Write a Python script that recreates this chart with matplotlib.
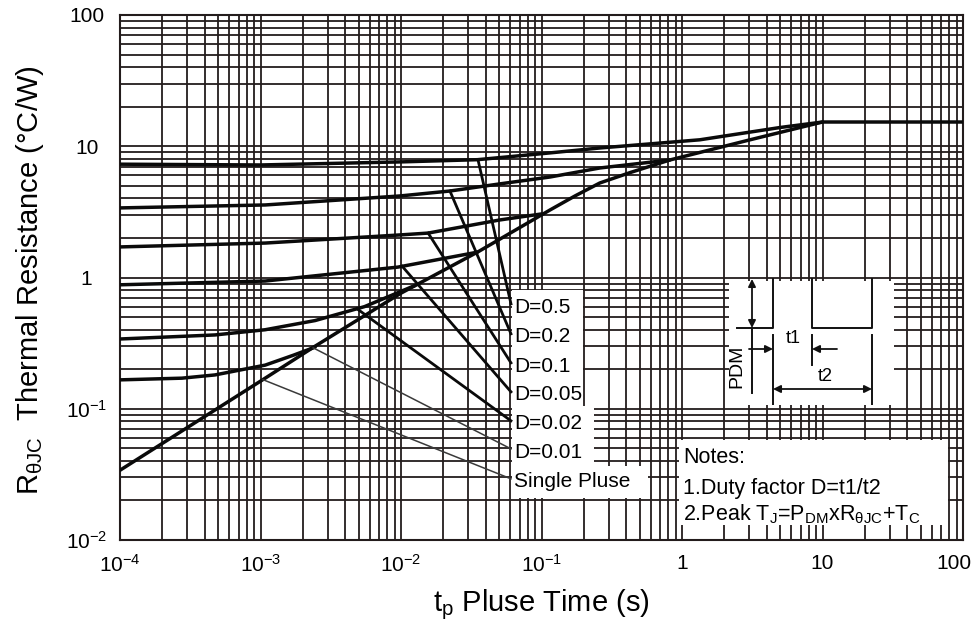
import numpy as np
import matplotlib.pyplot as plt
import matplotlib.transforms as mtransforms
from matplotlib.ticker import LogLocator, FixedLocator, FixedFormatter, NullFormatter
from matplotlib.patches import Rectangle

plt.rcParams['font.family'] = ['Liberation Sans', 'DejaVu Sans']
plt.rcParams['mathtext.fontset'] = 'custom'
plt.rcParams['mathtext.rm'] = 'Liberation Sans'
plt.rcParams['mathtext.it'] = 'Liberation Sans:italic'
plt.rcParams['mathtext.bf'] = 'Liberation Sans:bold'

# ---- data ----
x_ticks = [1e-4, 1e-3, 1e-2, 1e-1, 1, 10, 100]
x_ticklabels = ['$10^{-4}$', '$10^{-3}$', '$10^{-2}$', '$10^{-1}$', '1', '10', '100']
y_ticks = [1e-2, 1e-1, 1, 10, 100]
y_ticklabels = ['$10^{-2}$', '$10^{-1}$', '1', '10', '100']

single_t = [1e-4, 1.08e-3, 2.45e-3, 1e-2, 3.5e-2, 0.115, 0.173, 0.26, 0.427, 0.82, 3.05, 10, 100]
single_r = [0.034, 0.171, 0.30, 0.76, 1.56, 3.27, 4.18, 5.25, 6.3, 7.86, 11.2, 15.3, 15.3]

d05_t = [1e-4, 1e-3, 1e-2, 3.5e-2, 0.115, 0.26, 1.34, 5.0, 10]
d05_r = [7.3, 7.2, 7.6, 7.9, 8.9, 9.7, 11.2, 13.9, 15.3]

d02_t = [1e-4, 1.08e-3, 9.8e-3, 0.0223, 0.05, 0.115, 0.26, 0.82]
d02_r = [3.39, 3.57, 4.18, 4.56, 5.16, 5.83, 6.83, 7.86]

d01_t = [1e-4, 1.08e-3, 9.8e-3, 0.0156, 0.05, 0.1]
d01_r = [1.71, 1.83, 2.11, 2.18, 2.74, 3.05]

d005_t = [1e-4, 1.08e-3, 9.5e-3, 0.0126, 0.035]
d005_r = [0.88, 0.94, 1.2, 1.27, 1.56]

d002_t = [1e-4, 4.74e-4, 1.08e-3, 2.45e-3, 5.5e-3, 1.26e-2]
d002_r = [0.34, 0.365, 0.40, 0.47, 0.60, 0.87]

d001_t = [1e-4, 2.76e-4, 4.74e-4, 1.08e-3, 1.7e-3, 2.45e-3]
d001_r = [0.166, 0.171, 0.181, 0.215, 0.255, 0.295]

labels = ['D=0.5', 'D=0.2', 'D=0.1', 'D=0.05', 'D=0.02', 'D=0.01', 'Single Pluse']
leader_t = [0.0353, 0.0223, 0.0156, 0.0102, 4.86e-3, 2.37e-3, 1.04e-3]

notes = ['Notes:', '1.Duty factor D=t1/t2',
         r'2.Peak T$_\mathrm{J}$=P$_\mathrm{DM}$xR$_{\mathrm{\theta JC}}$+T$_\mathrm{C}$']

# ---- figure ----
GRID = '#231c1c'
fig = plt.figure(figsize=(9.74, 6.36), dpi=100)
ax = fig.add_axes([120/974, 96/636, 843/974, 525/636])
ax.set_xscale('log')
ax.set_yscale('log')
ax.set_xlim(1e-4, 100)
ax.set_ylim(1e-2, 100)

for axis in (ax.xaxis, ax.yaxis):
    axis.set_minor_locator(LogLocator(base=10, subs=np.arange(2, 10), numticks=100))
    axis.set_minor_formatter(NullFormatter())
ax.xaxis.set_major_locator(FixedLocator(x_ticks))
ax.xaxis.set_major_formatter(FixedFormatter(x_ticklabels))
ax.yaxis.set_major_locator(FixedLocator(y_ticks))
ax.yaxis.set_major_formatter(FixedFormatter(y_ticklabels))
ax.tick_params(which='both', length=0, labelsize=15)
ax.tick_params(axis='x', pad=10)
ax.tick_params(axis='y', pad=24)
for lab in ax.get_yticklabels():
    lab.set_ha('center')
# last x label would run off the right edge
last = ax.get_xticklabels()[-1]
last.set_ha('right')
last.set_transform(last.get_transform() + mtransforms.ScaledTranslation(8/100, 0, fig.dpi_scale_trans))

ax.set_axisbelow(True)
ax.grid(True, which='both', color=GRID, lw=1.3)
for sp in ax.spines.values():
    sp.set_color(GRID)
    sp.set_linewidth(1.5)

# white areas behind labels, notes and pulse sketch
masks = [(0.4650, 0.2552, 0.0843, 0.2210),
         (0.4650, 0.1410, 0.0973, 0.1142),
         (0.4650, 0.0800, 0.1613, 0.0610),
         (0.6631, 0.0286, 0.3191, 0.1619),
         (0.7224, 0.2571, 0.1957, 0.2362)]
for (mx, my, mw, mh) in masks:
    ax.add_patch(Rectangle((mx, my), mw, mh, transform=ax.transAxes,
                           facecolor='white', edgecolor='none', zorder=1))

curves = [(d05_t, d05_r), (d02_t, d02_r), (d01_t, d01_r), (d005_t, d005_r),
          (d002_t, d002_r), (d001_t, d001_r), (single_t, single_r)]
for t, r in curves:
    ax.plot(t, r, color='#0a0a0a', lw=2.5, zorder=3, solid_capstyle='round',
            solid_joinstyle='round')


def frac_to_data(fx, fy):
    return 10 ** (-4 + 6 * fx), 10 ** (-2 + 4 * fy)


label_y = [0.4438, 0.3867, 0.3314, 0.2762, 0.2210, 0.1676, 0.1105]
for i, (t, r) in enumerate(curves):
    t0 = leader_t[i]
    r0 = 10 ** np.interp(np.log10(t0), np.log10(t), np.log10(r))
    ex, ey = frac_to_data(0.4638, label_y[i] + 0.006)
    thin = i >= 5
    ax.plot([t0, ex], [r0, ey], color='#3a3a3a' if thin else '#0a0a0a',
            lw=1.1 if thin else 2.0, zorder=3)
    ax.text(0.4674, label_y[i], labels[i], transform=ax.transAxes,
            fontsize=15, va='center', ha='left', zorder=4)

for i, s in enumerate(notes):
    ax.text(0.6679, [0.1562, 0.0990, 0.0495][i], s, transform=ax.transAxes,
            fontsize=15.5, va='center', ha='left', zorder=4)

# pulse sketch (drawn in its own pixel-like frame)
ins = fig.add_axes([729/974, 1 - 405/636, 148/974, 127.5/636])
ins.set_xlim(729, 877)
ins.set_ylim(405, 277.5)
ins.axis('off')
k = dict(color='#111111', lw=1.4)
ins.plot([737, 773, 773], [328, 328, 277.5], **k)
ins.plot([812, 812, 872, 872], [277.5, 328, 328, 277.5], **k)
ins.plot([752, 752], [328, 393], **k)
ins.plot([773, 773], [335, 405], **k)
ins.plot([812, 812], [335, 365], **k)
ins.plot([872, 872], [335, 405], **k)
arr = dict(color='#111111', lw=1.3, mutation_scale=11, shrinkA=0, shrinkB=0)
ins.annotate('', xy=(752, 279), xytext=(752, 328), arrowprops=dict(arrowstyle='<|-|>', **arr))
ins.annotate('', xy=(773, 349), xytext=(749, 349), arrowprops=dict(arrowstyle='-|>', **arr))
ins.annotate('', xy=(812, 349), xytext=(837, 349), arrowprops=dict(arrowstyle='-|>', **arr))
ins.annotate('', xy=(773, 389), xytext=(872, 389), arrowprops=dict(arrowstyle='<|-|>', **arr))
ins.text(793, 338, 't1', fontsize=13, ha='center', va='center')
ins.text(825, 376, 't2', fontsize=13, ha='center', va='center')
ins.text(737, 366, 'PDM', fontsize=14, rotation=90, ha='center', va='center')

fig.text(30/974, 1 - 280/636, r'R$_{\mathrm{\theta JC}}$  Thermal Resistance (°C/W)',
         rotation=90, fontsize=21, ha='center', va='center')
fig.text(541/974, 1 - 605/636, r't$_\mathrm{p}$ Pluse Time (s)',
         fontsize=21, ha='center', va='center')

fig.savefig('out.png', dpi=100)
